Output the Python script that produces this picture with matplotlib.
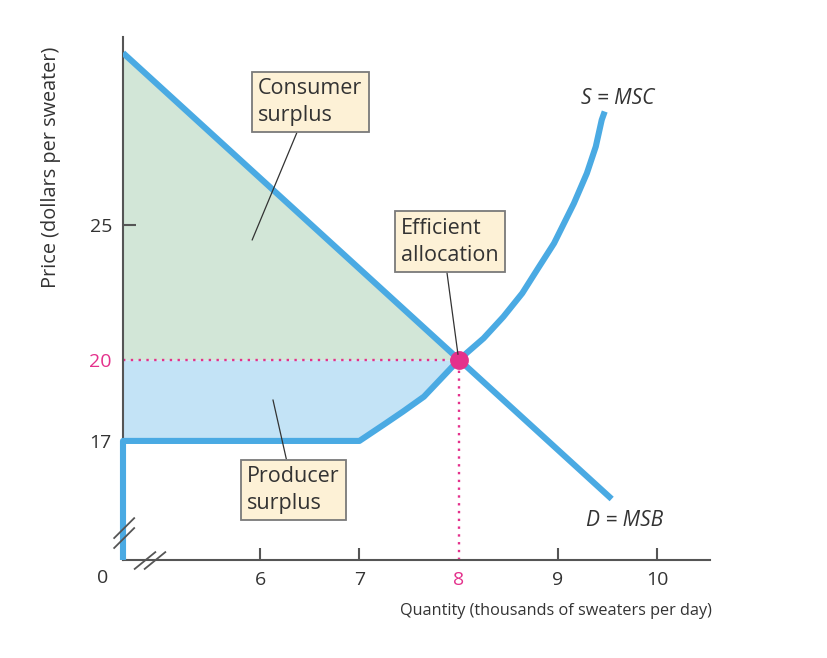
import numpy as np
import matplotlib.pyplot as plt

# demand (MSB) line endpoints
demand_q = [4.62, 9.54]
demand_p = [31.37, 14.85]

# supply (MSC): flat at 17 up to q=7, then rising
supply_q = [4.62, 7.0, 7.24, 7.44, 7.65, 7.81, 8.0, 8.25, 8.45, 8.64, 8.80,
            8.96, 9.16, 9.29, 9.38, 9.44, 9.47]
supply_p = [17.0, 17.0, 17.59, 18.09, 18.64, 19.26, 20.0, 20.80, 21.60, 22.47, 23.40,
            24.32, 25.80, 26.91, 27.90, 28.89, 29.20]

eq_q, eq_p = 8.0, 20.0
x_ticks = [6, 7, 8, 9, 10]
y_ticks = [17, 20, 25]

blue = "#4aaae3"
pink = "#e4318c"
green_fill = "#d2e6d7"
blue_fill = "#c3e3f6"
box_fill = "#fdf1d6"
axis_col = "#555555"
txt = "#333333"

plt.rcParams['font.family'] = ['Open Sans', 'DejaVu Sans']

fig = plt.figure(figsize=(8.28, 6.58), dpi=100)
ax = fig.add_axes([123/828, 1 - 560/658, (710-123)/828, (560-37)/658])
x0, x1 = 4.62, 10.53
y0, y1 = 12.59, 31.96
ax.set_xlim(x0, x1)
ax.set_ylim(y0, y1)

# surplus areas
qd = np.linspace(x0, eq_q, 50)
pd_ = np.interp(qd, demand_q, demand_p)
ax.fill_between(qd, eq_p, pd_, color=green_fill, lw=0, zorder=1)
sq = np.array(supply_q)
sp = np.array(supply_p)
mask = sq <= eq_q
ax.fill_between(sq[mask], sp[mask], eq_p, color=blue_fill, lw=0, zorder=1)

# dotted guide lines
ax.plot([x0, eq_q], [eq_p, eq_p], ls=(0, (1, 2.3)), color=pink, lw=1.7, zorder=2)
ax.plot([eq_q, eq_q], [y0, eq_p], ls=(0, (1, 2.3)), color=pink, lw=1.7, zorder=2)

# curves
ax.plot(demand_q, demand_p, color=blue, lw=4.4, solid_capstyle='butt', zorder=3)
ax.plot([x0] + supply_q, [y0] + supply_p, color=blue, lw=4.4,
        solid_capstyle='butt', solid_joinstyle='round', zorder=3, clip_on=False)
ax.plot(eq_q, eq_p, 'o', color=pink, ms=12.5, zorder=5)

# axes
for s in ['top', 'right']:
    ax.spines[s].set_visible(False)
for s in ['left', 'bottom']:
    ax.spines[s].set_color(axis_col)
    ax.spines[s].set_linewidth(1.5)
ax.set_xticks(x_ticks)
ax.set_xticklabels([str(t) for t in x_ticks])
ax.set_yticks(y_ticks)
ax.set_yticklabels([str(t) for t in y_ticks])
ax.tick_params(direction='in', length=9, width=1.5, color=axis_col,
               labelsize=14, labelcolor=txt, pad=8)
for t, lab in zip(ax.xaxis.get_major_ticks(), x_ticks):
    if lab == 8:
        t.tick1line.set_visible(False)
        t.label1.set_color(pink)
for t, lab in zip(ax.yaxis.get_major_ticks(), y_ticks):
    if lab != 25:
        t.tick1line.set_visible(False)
    if lab == 20:
        t.label1.set_color(pink)

ax.set_xlabel("Quantity (thousands of sweaters per day)", fontsize=11.7, color=txt)
ax.xaxis.set_label_coords(0.737, -0.083)
ax.set_ylabel("Price (dollars per sweater)", fontsize=14.3, color=txt)
ax.yaxis.set_label_coords(-0.106, 0.75)
ax.text(-0.035, -0.035, "0", transform=ax.transAxes, fontsize=14, color=txt,
        ha='center', va='center')

# axis break marks
for d in (0, 0.019):
    ax.plot([-0.015, 0.019], [0.042 - d, 0.080 - d], transform=ax.transAxes,
            color=axis_col, lw=1.3, clip_on=False, zorder=6)
for d in (0, 0.017):
    ax.plot([0.020 + d, 0.055 + d], [-0.017, 0.015], transform=ax.transAxes,
            color=axis_col, lw=1.3, clip_on=False, zorder=6)

# curve labels
ax.text(9.60, 29.70, "S = MSC", fontsize=15, style='italic', color=txt, ha='center', va='center')
ax.text(9.67, 14.04, "D = MSB", fontsize=15, style='italic', color=txt, ha='center', va='center')

# annotation boxes
box = dict(boxstyle='square,pad=0.3', fc=box_fill, ec="#7a7a7a", lw=1.3)
kw = dict(fontsize=15.5, color=txt, ha='left', va='top', linespacing=1.35, bbox=box, zorder=7)
ax.annotate("Consumer\nsurplus", xy=(5.92, 24.44), xytext=(5.98, 30.44),
            arrowprops=dict(arrowstyle='-', color=txt, lw=0.9,
                            shrinkA=0, shrinkB=0, relpos=(0.4, 0)), **kw)
ax.annotate("Efficient\nallocation", xy=(eq_q, eq_p), xytext=(7.42, 25.26),
            arrowprops=dict(arrowstyle='-', color=txt, lw=0.9,
                            shrinkA=0, shrinkB=4, relpos=(0.46, 0)), **kw)
ax.annotate("Producer\nsurplus", xy=(6.13, 18.52), xytext=(5.87, 16.07),
            arrowprops=dict(arrowstyle='-', color=txt, lw=0.9,
                            shrinkA=0, shrinkB=0, relpos=(0.44, 1)), **kw)

fig.savefig("out.png", dpi=100)
